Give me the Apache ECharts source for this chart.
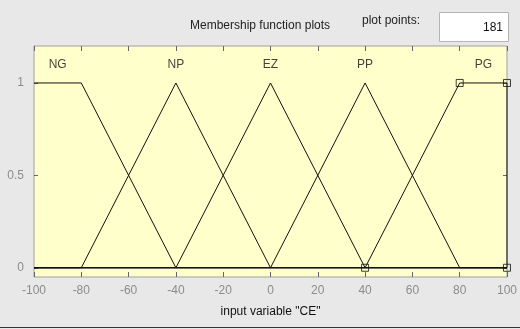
<!DOCTYPE html>
<html>
<head>
<meta charset="utf-8">
<script src="https://cdn.jsdelivr.net/npm/echarts@6/dist/echarts.min.js"></script>
<style>
  html, body { margin: 0; padding: 0; background: #e8e8e8; }
  #chart { width: 520px; height: 329px; }
</style>
</head>
<body>
<div id="chart"></div>
<script>
// Membership functions of the input variable "CE"
const mfNames = ['NG', 'NP', 'EZ', 'PP', 'PG'];
const mfLabelX = [-90, -40, 0, 40, 90];
const mfNG = [[-100, 1], [-80, 1], [-40, 0], [100, 0]];
const mfNP = [[-100, 0], [-80, 0], [-40, 1], [0, 0], [100, 0]];
const mfEZ = [[-100, 0], [-40, 0], [0, 1], [40, 0], [100, 0]];
const mfPP = [[-100, 0], [0, 0], [40, 1], [80, 0], [100, 0]];
const mfPG = [[-100, 0], [40, 0], [80, 1], [100, 1], [100, 0]];
// parameters of the selected function (PG, trapmf [40 80 100 100])
const pgParams = [[40, 0], [80, 1], [100, 1], [100, 0]];
const xTicks = [-100, -80, -60, -40, -20, 0, 20, 40, 60, 80, 100];
const yTicks = [0, 0.5, 1];
const plotPoints = 181;

const chart = echarts.init(document.getElementById('chart'), null, { renderer: 'canvas' });
const FONT = 'Liberation Sans, Arial, sans-serif';

const lineSeries = (data) => ({
  type: 'line', data, symbol: 'none', silent: true, animation: false,
  lineStyle: { color: '#111', width: 1 }, z: 3
});

const tickStyle = { color: '#666' };

chart.setOption({
  backgroundColor: '#e8e8e8',
  animation: false,
  grid: {
    left: 34, right: 11, top: 46, bottom: 52,
    show: true, backgroundColor: '#ffffcc', borderColor: '#a0a0a0', borderWidth: 1
  },
  xAxis: [{
    type: 'value', min: -100, max: 100, interval: 20, position: 'bottom',
    axisLine: { show: false, onZero: false },
    axisTick: { show: true, inside: true, length: 5, lineStyle: tickStyle },
    splitLine: { show: false },
    axisLabel: { color: '#8c8c8c', fontFamily: FONT, fontSize: 12, margin: 8,
      customValues: xTicks },
    name: 'input variable "CE"', nameLocation: 'middle', nameGap: 29,
    nameTextStyle: { color: '#111', fontFamily: FONT, fontSize: 12 }
  }, {
    type: 'value', min: -100, max: 100, interval: 20, position: 'top',
    axisLine: { show: false, onZero: false },
    axisTick: { show: true, inside: true, length: 5, lineStyle: tickStyle },
    splitLine: { show: false }, axisLabel: { show: false }
  }],
  yAxis: [{
    type: 'value', min: -0.05, max: 1.2, position: 'left',
    axisLine: { show: false, onZero: false },
    axisTick: { show: true, inside: true, length: 4, customValues: yTicks, lineStyle: tickStyle },
    splitLine: { show: false },
    axisLabel: { color: '#8c8c8c', fontFamily: FONT, fontSize: 12, margin: 10, customValues: yTicks,
      formatter: v => String(v) }
  }, {
    type: 'value', min: -0.05, max: 1.2, position: 'right',
    axisLine: { show: false, onZero: false },
    axisTick: { show: true, inside: true, length: 4, customValues: yTicks, lineStyle: tickStyle },
    splitLine: { show: false }, axisLabel: { show: false }
  }],
  series: [
    lineSeries(mfNG), lineSeries(mfNP), lineSeries(mfEZ), lineSeries(mfPP), lineSeries(mfPG),
    {
      type: 'scatter', silent: true, z: 4,
      data: pgParams, symbol: 'rect', symbolSize: 7,
      itemStyle: { color: 'rgba(0,0,0,0)', borderColor: '#111', borderWidth: 1 }
    },
    {
      type: 'scatter', silent: true, z: 5, symbolSize: 0,
      data: mfNames.map((n, i) => ({ value: [mfLabelX[i], 1.1], name: n })),
      label: { show: true, position: 'inside', formatter: p => p.name,
        color: '#111', fontFamily: FONT, fontSize: 12 }
    }
  ],
  graphic: [
    { type: 'text', left: 190, top: 20,
      style: { text: 'Membership function plots', fill: '#222', font: '12px ' + FONT } },
    { type: 'text', left: 362, top: 15,
      style: { text: 'plot points:', fill: '#222', font: '12px ' + FONT } },
    { type: 'rect', shape: { x: 439.5, y: 12.5, width: 69, height: 29 },
      style: { fill: '#ffffff', stroke: '#b4b4b4', lineWidth: 1 } },
    { type: 'text', right: 17, top: 22,
      style: { text: String(plotPoints), fill: '#111', font: '12px ' + FONT } },
    { type: 'line', shape: { x1: 0, y1: 327.5, x2: 520, y2: 327.5 },
      style: { stroke: '#333', lineWidth: 1 } }
  ]
});
</script>
</body>
</html>
